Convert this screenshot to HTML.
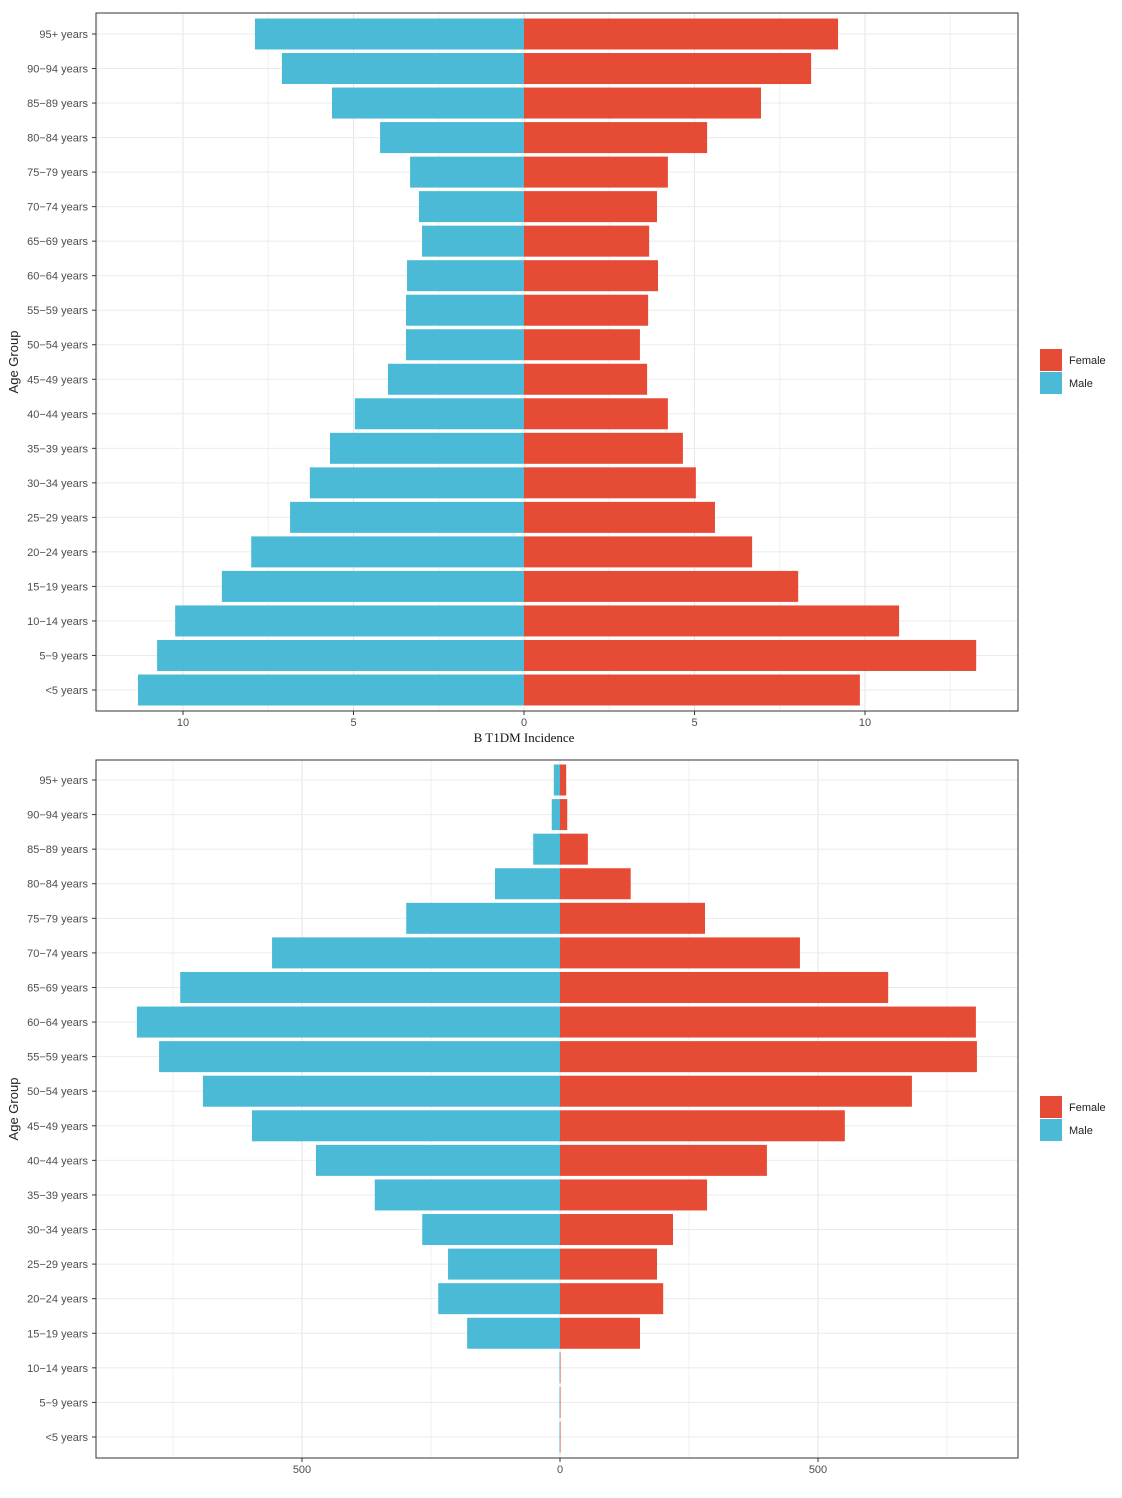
<!DOCTYPE html>
<html><head><meta charset="utf-8">
<style>
html,body{margin:0;padding:0;background:#fff;}
svg{display:block;font-family:"Liberation Sans",sans-serif;}
</style></head>
<body>
<svg id="chart" width="1122" height="1498" viewBox="0 0 1122 1498" xmlns="http://www.w3.org/2000/svg">
<text x="524" y="742" text-anchor="middle" font-family="Liberation Serif,serif" font-size="13" fill="#111">B  T1DM  Incidence</text>
</svg>
<script>
const categories = ["<5 years","5-9 years","10-14 years","15-19 years","20-24 years","25-29 years","30-34 years","35-39 years","40-44 years","45-49 years","50-54 years","55-59 years","60-64 years","65-69 years","70-74 years","75-79 years","80-84 years","85-89 years","90-94 years","95+ years"];
const topMale = [11.32,10.76,10.23,8.86,8.0,6.86,6.28,5.69,4.96,3.99,3.46,3.46,3.43,2.99,3.08,3.34,4.22,5.63,7.10,7.89];
const topFemale = [9.85,13.26,11.0,8.04,6.69,5.60,5.04,4.66,4.22,3.61,3.40,3.64,3.93,3.67,3.90,4.22,5.37,6.95,8.42,9.21];
const topTicks = [-10,-5,0,5,10];
const topTickLabels = ["10","5","0","5","10"];
const topMinor = [-12.5,-7.5,-2.5,2.5,7.5,12.5];
const botMale = [1,1,1,180,236,217,267,359,473,597,692,777,820,736,558,298,126,52,16,12];
const botFemale = [1,1,1,155,200,188,219,285,401,552,682,808,806,636,465,281,137,54,14,12];
const botTicks = [-500,0,500];
const botTickLabels = ["500","0","500"];
const botMinor = [-750,-250,250,750];

const NS="http://www.w3.org/2000/svg";
const svg=document.getElementById('chart');
function mk(tag,attrs,parent){const e=document.createElementNS(NS,tag);for(const k in attrs)e.setAttribute(k,attrs[k]);(parent||svg).appendChild(e);return e;}

function drawPanel(p){
  const g=mk('g',{});
  
  
  const L=96,R=1018,T=p.top,B=p.top+698;
  const x=v=>p.zero+v*p.scale;
  const n=categories.length;
  const y=i=>p.yFirst-(i*(p.yFirst-p.yLast)/(n-1));
  mk('rect',{x:L,y:T,width:R-L,height:B-T,fill:'#fff'},g);
  p.minor.forEach(v=>{const l=mk('line',{x1:x(v),x2:x(v),y1:T,y2:B,stroke:'#f0f0f0','stroke-width':1},g);});
  p.ticks.forEach(v=>{const l=mk('line',{x1:x(v),x2:x(v),y1:T,y2:B,stroke:'#e6e6e6','stroke-width':1},g);});
  categories.forEach((c,i)=>{mk('line',{x1:L,x2:R,y1:y(i),y2:y(i),stroke:'#ebebeb','stroke-width':1},g);});
  const bh=31;
  categories.forEach((c,i)=>{
    const m=mk('rect',{x:x(-p.male[i]),y:y(i)-bh/2,width:p.male[i]*p.scale,height:bh,fill:'#4bbad6'},g);
    
    
    const f=mk('rect',{x:x(0),y:y(i)-bh/2,width:p.female[i]*p.scale,height:bh,fill:'#e64b35'},g);
    
    
    const t=mk('text',{x:L-8,y:y(i)+4,'text-anchor':'end','font-size':11,fill:'#4d4d4d'},g);
    t.textContent=c.replace('-','\u2212');
    
    
    mk('line',{x1:L-4,x2:L,y1:y(i),y2:y(i),stroke:'#333','stroke-width':1},g);
  });
  mk('rect',{x:L,y:T,width:R-L,height:B-T,fill:'none',stroke:'#333','stroke-width':1},g);
  p.ticks.forEach((v,i)=>{
    mk('line',{x1:x(v),x2:x(v),y1:B,y2:B+4,stroke:'#333','stroke-width':1},g);
    const t=mk('text',{x:x(v),y:B+15,'text-anchor':'middle','font-size':11,fill:'#4d4d4d'},g);
    t.textContent=p.tickLabels[i];
    
    
  });
  const yt=mk('text',{x:0,y:0,'text-anchor':'middle','font-size':13,fill:'#222',transform:`translate(18,${(T+B)/2}) rotate(-90)`},g);
  yt.textContent='Age Group';
  
  
  const ly=(T+B)/2-12;
  [['Female','#e64b35'],['Male','#4bbad6']].forEach((e,i)=>{
    const s=mk('rect',{x:1040,y:ly+i*23-1,width:22,height:22,fill:e[1]},g);
    
    
    const t=mk('text',{x:1069,y:ly+i*23+14,'font-size':11,fill:'#222'},g);
    t.textContent=e[0];
    
    
  });
}
drawPanel({name:'panel-a-pyramid',top:13,zero:524,scale:34.1,yFirst:690,yLast:34,male:topMale,female:topFemale,ticks:topTicks,tickLabels:topTickLabels,minor:topMinor});
drawPanel({name:'panel-b-pyramid',top:760,zero:560,scale:0.516,yFirst:1437,yLast:780,male:botMale,female:botFemale,ticks:botTicks,tickLabels:botTickLabels,minor:botMinor});
</script>
</body></html>
